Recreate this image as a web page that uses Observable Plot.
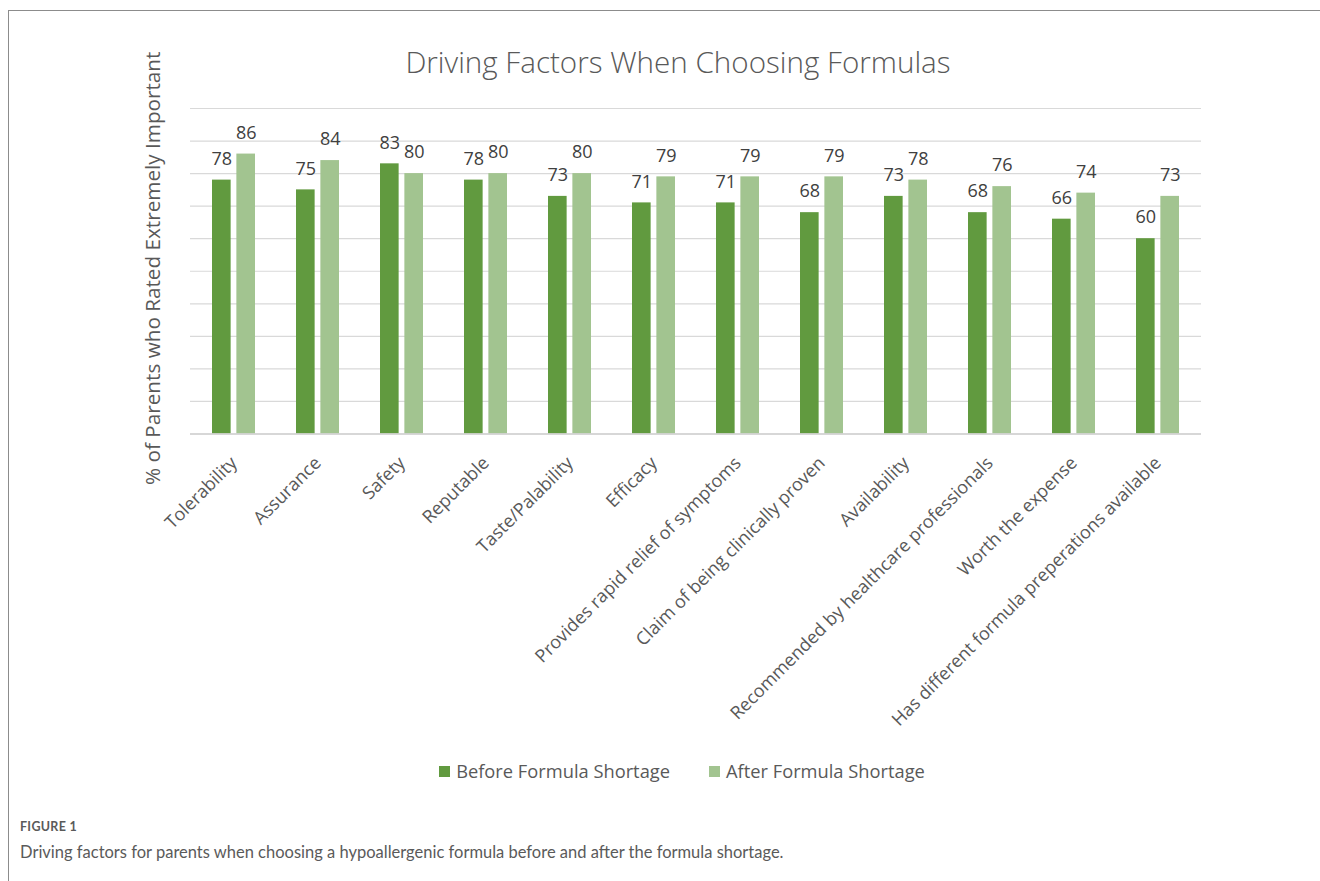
<!DOCTYPE html>
<html>
<head>
<meta charset="utf-8">
<script src="https://cdn.jsdelivr.net/npm/d3@7"></script>
<script src="https://cdn.jsdelivr.net/npm/@observablehq/plot@0.6"></script>
<style>
  html, body { margin: 0; padding: 0; background: #fff; }
  body { width: 1320px; height: 881px; position: relative; overflow: hidden; font-family: "Open Sans", sans-serif; }
  #frame { position: absolute; left: 8px; top: 10px; width: 1320px; height: 880px; border-top: 1px solid #8c8c8c; border-left: 1px solid #8c8c8c; }
  #chart { position: absolute; left: 0; top: 20px; }
  #title { position: absolute; left: 178px; width: 1000px; top: 40px; text-align: center; font-size: 29.6px; font-weight: 300; color: #595959; line-height: 44px; z-index: 2; }
  #legend { position: absolute; top: 758px; left: 182px; width: 1000px; display: flex; justify-content: center; gap: 39px; font-size: 18.3px; color: #595959; line-height: 26px; }
  #legend .item { display: flex; align-items: center; gap: 6px; }
  #legend .sw { width: 11px; height: 11px; display: inline-block; }
  #figlabel { position: absolute; left: 20px; top: 819px; font-family: Lato, "Open Sans", sans-serif; font-size: 12.5px; font-weight: 700; color: #5a5a5a; letter-spacing: 0.3px; }
  #caption { position: absolute; left: 20px; top: 842px; font-family: Lato, "Open Sans", sans-serif; font-size: 16.5px; color: #5a5a5a; }
</style>
</head>
<body>
<div id="frame"></div>
<div id="chart"></div>
<div id="title">Driving Factors When Choosing Formulas</div>
<div id="legend"></div>
<div id="figlabel">FIGURE 1</div>
<div id="caption">Driving factors for parents when choosing a hypoallergenic formula before and after the formula shortage.</div>
<script>
const categories = [
  "Tolerability",
  "Assurance",
  "Safety",
  "Reputable",
  "Taste/Palability",
  "Efficacy",
  "Provides rapid relief of symptoms",
  "Claim of being clinically proven",
  "Availability",
  "Recommended by healthcare professionals",
  "Worth the expense",
  "Has different formula preperations available"
];
const beforeValues = [78, 75, 83, 78, 73, 71, 71, 68, 73, 68, 66, 60];
const afterValues  = [86, 84, 80, 80, 80, 79, 79, 79, 78, 76, 74, 73];
const seriesNames  = ["Before Formula Shortage", "After Formula Shortage"];
const seriesColors = ["#619a3f", "#a2c490"];
const yAxisLabel   = "% of Parents who Rated Extremely Important";
const yTicks       = [0, 10, 20, 30, 40, 50, 60, 70, 80, 90, 100];

const beforeData = categories.map((c, i) => ({category: c, value: beforeValues[i]}));
const afterData  = categories.map((c, i) => ({category: c, value: afterValues[i]}));

// layout
const W = 1320, H = 725;
const mL = 190, mR = 119, mT = 88, mB = 311.5;
const pad = 0.49;
const step = (W - mL - mR) / categories.length;
const bandW = step * (1 - pad);
const barW = 18.6;
const inset = bandW - barW;
const off = (bandW - barW) / 2;

const chart = Plot.plot({
  width: W,
  height: H,
  marginLeft: mL,
  marginRight: mR,
  marginTop: mT,
  marginBottom: mB,
  style: {fontFamily: "Open Sans, sans-serif", fontSize: "16px", color: "#595959", background: "transparent"},
  x: {domain: categories, paddingInner: pad, paddingOuter: pad / 2, label: null, axis: null},
  y: {domain: [0, 100], label: null, axis: null},
  marks: [
    Plot.gridY(yTicks, {stroke: "#d9d9d9", strokeOpacity: 1, strokeWidth: 1.2}),
    Plot.barY(beforeData, {x: "category", y: "value", fill: seriesColors[0], insetRight: inset}),
    Plot.barY(afterData, {x: "category", y: "value", fill: seriesColors[1], insetLeft: inset}),
    Plot.ruleY([0], {stroke: "#d0d0d0", strokeWidth: 1.3}),
    Plot.text(beforeData, {x: "category", y: "value", text: d => String(d.value), dx: -off, dy: -21, fontSize: 18, fill: "#404040"}),
    Plot.text(afterData, {x: "category", y: "value", text: d => String(d.value), dx: off, dy: -21, fontSize: 18, fill: "#404040"}),
    Plot.axisX({tickRotate: -45, tickSize: 0, tickPadding: 26, fontSize: 18, label: null}),
    Plot.text([yAxisLabel], {frameAnchor: "left", textAnchor: "middle", rotate: -90, dx: -37, dy: -3, fontSize: 20.7, fill: "#595959"})
  ]
});
document.getElementById("chart").appendChild(chart);

const legend = document.getElementById("legend");
seriesNames.forEach((name, i) => {
  const item = document.createElement("div");
  item.className = "item";
  const sw = document.createElement("span");
  sw.className = "sw";
  sw.style.background = seriesColors[i];
  const t = document.createElement("span");
  t.textContent = name;
  item.appendChild(sw);
  item.appendChild(t);
  legend.appendChild(item);
});
</script>
</body>
</html>
